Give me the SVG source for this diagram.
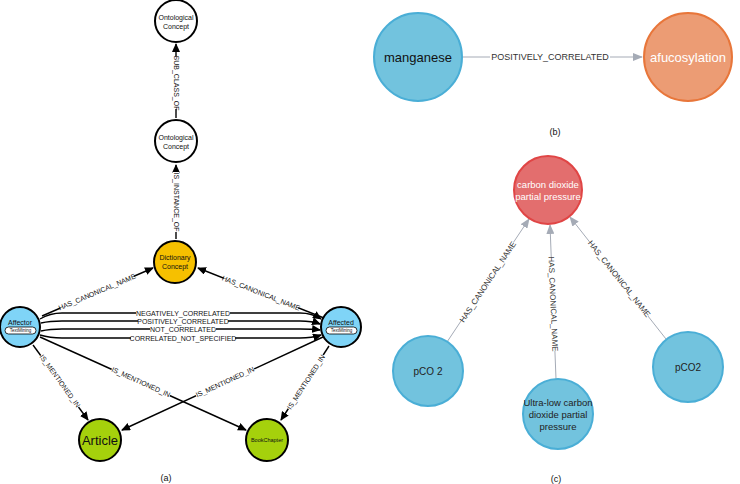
<svg xmlns="http://www.w3.org/2000/svg" width="740" height="484" viewBox="0 0 740 484">
<defs>
<marker id="ab" markerUnits="userSpaceOnUse" markerWidth="9" markerHeight="8" refX="8" refY="4" orient="auto"><path d="M0,0 L9,4 L0,8 Z" fill="#000"/></marker>
<marker id="ag" markerUnits="userSpaceOnUse" markerWidth="10" markerHeight="8" refX="9" refY="4" orient="auto"><path d="M0,0 L10,4 L0,8 Z" fill="#a5abb6"/></marker>
</defs>
<style>
text{font-family:"Liberation Sans",Arial,sans-serif;text-anchor:middle;dominant-baseline:central;fill:#111}
.na{stroke:#000;stroke-width:2}
.ea{stroke:#000;stroke-width:1.4;fill:none;marker-end:url(#ab)}
.la{font-size:7px}
.bg{fill:#fff}
.nl{font-size:7px}
.eg{stroke:#a5abb6;stroke-width:1;fill:none;marker-end:url(#ag)}
.lg{font-size:8px;fill:#333}
.blue{fill:#72c3de;stroke:#4aaed6;stroke-width:2}
.cap{font-size:9px}
</style>
<rect width="740" height="484" fill="#fff"/>
<g id="connectors">
<line class="ea" x1="176" y1="118" x2="176" y2="44"/>
<line class="ea" x1="176" y1="239" x2="176" y2="165"/>
<line class="ea" x1="42" y1="316" x2="153" y2="268"/>
<line class="ea" x1="324" y1="318" x2="198" y2="268"/>
<path class="ea" d="M40,319 Q50,313 62,313 L300,313 Q312,313 321,319"/>
<path class="ea" d="M41,323 Q50,321 62,321 L300,321 Q312,321 320,324"/>
<path class="ea" d="M41,331 Q50,329 62,329 L300,329 Q312,329 320,330"/>
<path class="ea" d="M40,335 Q50,338 62,338 L300,338 Q312,338 321,335"/>
<line class="ea" x1="33" y1="345" x2="88" y2="420"/>
<line class="ea" x1="40" y1="337" x2="246" y2="430"/>
<line class="ea" x1="323" y1="337" x2="122" y2="430"/>
<line class="ea" x1="329" y1="346" x2="281" y2="420"/>
<g transform="translate(176,83) rotate(90)"><rect class="bg" x="-26" y="-3.5" width="52" height="7"/><text class="la">SUB_CLASS_OF</text></g>
<g transform="translate(176,202) rotate(90)"><rect class="bg" x="-30" y="-3.5" width="60" height="7"/><text class="la">IS_INSTANCE_OF</text></g>
<g transform="translate(97,292) rotate(-23)"><rect class="bg" x="-40" y="-3.5" width="80" height="7"/><text class="la">HAS_CANONICAL_NAME</text></g>
<g transform="translate(261,293) rotate(21.6)"><rect class="bg" x="-40" y="-3.5" width="80" height="7"/><text class="la">HAS_CANONICAL_NAME</text></g>
<g transform="translate(183,313)"><rect class="bg" x="-47" y="-3" width="94" height="6"/><text class="la">NEGATIVELY_CORRELATED</text></g>
<g transform="translate(183,321)"><rect class="bg" x="-45" y="-3" width="90" height="6"/><text class="la">POSITIVELY_CORRELATED</text></g>
<g transform="translate(183,329)"><rect class="bg" x="-33" y="-3" width="66" height="6"/><text class="la">NOT_CORRELATED</text></g>
<g transform="translate(183,338)"><rect class="bg" x="-52" y="-3" width="104" height="6"/><text class="la">CORRELATED_NOT_SPECIFIED</text></g>
<g transform="translate(60,381) rotate(54)"><rect class="bg" x="-32" y="-3.5" width="64" height="7"/><text class="la">IS_MENTIONED_IN</text></g>
<g transform="translate(141,382) rotate(24.3)"><rect class="bg" x="-32" y="-3.5" width="64" height="7"/><text class="la">IS_MENTIONED_IN</text></g>
<g transform="translate(225,382) rotate(-24.8)"><rect class="bg" x="-32" y="-3.5" width="64" height="7"/><text class="la">IS_MENTIONED_IN</text></g>
<g transform="translate(306,382) rotate(-57)"><rect class="bg" x="-32" y="-3.5" width="64" height="7"/><text class="la">IS_MENTIONED_IN</text></g>
<line class="eg" x1="463" y1="57" x2="642" y2="57"/>
<g transform="translate(550,57)"><rect class="bg" x="-60" y="-6" width="120" height="12"/><text class="lg" style="font-size:9px">POSITIVELY_CORRELATED</text></g>
<line class="eg" x1="447" y1="342" x2="529" y2="219"/>
<line class="eg" x1="556" y1="379" x2="550" y2="225"/>
<line class="eg" x1="666" y1="339" x2="570" y2="217"/>
<g transform="translate(488,282) rotate(-56.5)"><rect class="bg" x="-47" y="-5" width="94" height="10"/><text class="lg">HAS_CANONICAL_NAME</text></g>
<g transform="translate(553,304) rotate(87.5)"><rect class="bg" x="-47" y="-5" width="94" height="10"/><text class="lg">HAS_CANONICAL_NAME</text></g>
<g transform="translate(619,279) rotate(51.5)"><rect class="bg" x="-47" y="-5" width="94" height="10"/><text class="lg">HAS_CANONICAL_NAME</text></g>
</g>
<g id="onto1"><circle class="na" cx="176" cy="21" r="21" fill="#fff"/><text class="nl" x="176" y="17">Ontological</text><text class="nl" x="176" y="26">Concept</text></g>
<g id="onto2"><circle class="na" cx="176" cy="141" r="21" fill="#fff"/><text class="nl" x="176" y="137">Ontological</text><text class="nl" x="176" y="146">Concept</text></g>
<g id="dict"><circle class="na" cx="175" cy="262" r="21" fill="#f6c000"/><text class="nl" x="175" y="257">Dictionary</text><text class="nl" x="175" y="266">Concept</text></g>
<g id="affector"><circle class="na" cx="20" cy="327" r="20" fill="#7fd4f7"/><text class="nl" x="20" y="322">Affector</text><rect x="5" y="327" width="31" height="7" rx="3.5" fill="#fff" stroke="#000" stroke-width="0.8"/><text x="20.5" y="330.5" style="font-size:4.5px">TextMining</text></g>
<g id="affected"><circle class="na" cx="341" cy="327" r="20" fill="#7fd4f7"/><text class="nl" x="341" y="322">Affected</text><rect x="326" y="327" width="31" height="7" rx="3.5" fill="#fff" stroke="#000" stroke-width="0.8"/><text x="341.5" y="330.5" style="font-size:4.5px">TextMining</text></g>
<g id="article"><circle class="na" cx="100" cy="440" r="21" fill="#a5d10c"/><text x="100" y="440" style="font-size:13px">Article</text></g>
<g id="bookchapter"><circle class="na" cx="267" cy="440" r="21" fill="#a5d10c"/><text x="267" y="440" style="font-size:5.5px">BookChapter</text></g>
<g id="manganese"><circle class="blue" cx="418" cy="57" r="44"/><text x="418" y="57" style="font-size:13px">manganese</text></g>
<g id="afucosylation"><circle cx="688" cy="57" r="44" fill="#ec9c74" stroke="#e8763a" stroke-width="2"/><text x="688" y="57" style="font-size:13px;fill:#fff">afucosylation</text></g>
<g id="cdpp"><circle cx="548" cy="190" r="34" fill="#e36e6e" stroke="#e04545" stroke-width="2"/><text x="548" y="184" style="font-size:9.5px;fill:#fff">carbon dioxide</text><text x="548" y="196" style="font-size:9.5px;fill:#fff">partial pressure</text></g>
<g id="pco2a"><circle class="blue" cx="428" cy="371" r="35"/><text x="428" y="371" style="font-size:10px;fill:#222">pCO 2</text></g>
<g id="ultralow"><circle class="blue" cx="558" cy="414" r="35"/><text x="558" y="402" style="font-size:9.5px;fill:#222">Ultra-low carbon</text><text x="558" y="414" style="font-size:9.5px;fill:#222">dioxide partial</text><text x="558" y="426" style="font-size:9.5px;fill:#222">pressure</text></g>
<g id="pco2b"><circle class="blue" cx="688" cy="367" r="35"/><text x="688" y="367" style="font-size:10px;fill:#222">pCO2</text></g>
<text class="cap" x="166" y="478">(a)</text>
<text class="cap" x="555" y="132">(b)</text>
<text class="cap" x="556" y="479">(c)</text>
</svg>
